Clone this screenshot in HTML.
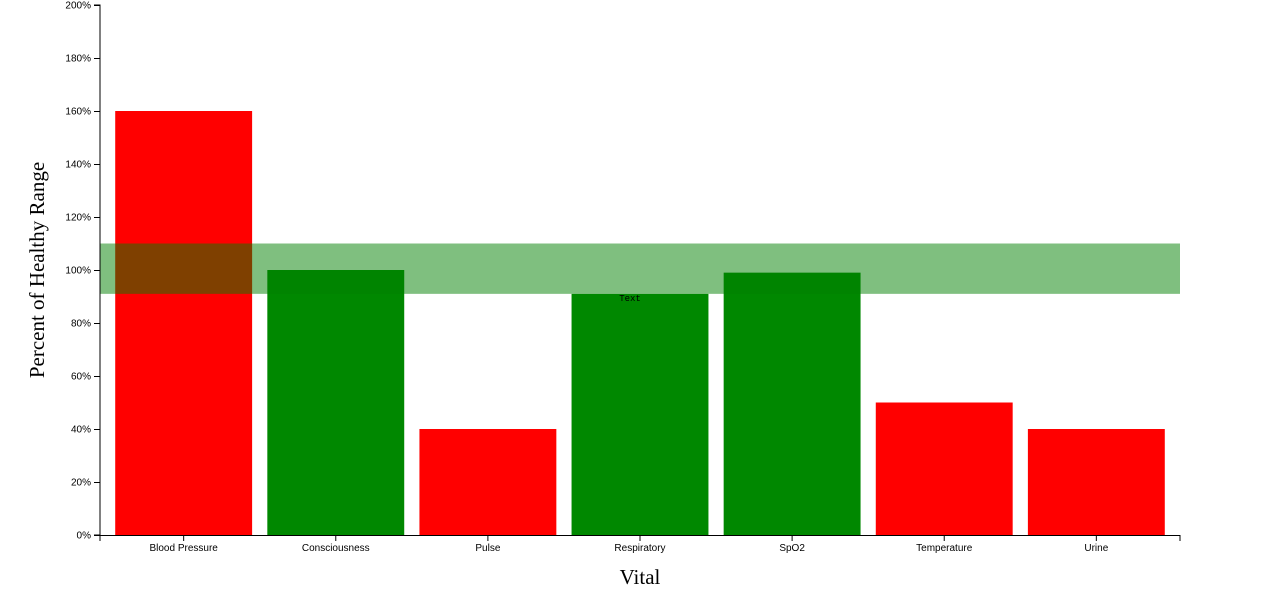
<!DOCTYPE html>
<html><head><meta charset="utf-8"><style>
html,body{margin:0;padding:0;background:#fff;}
svg{display:block;font-family:"Liberation Sans",sans-serif;}
</style></head><body>
<svg id="chart" width="1261" height="598" xmlns="http://www.w3.org/2000/svg"></svg>
<script>
const cats = ["Blood Pressure","Consciousness","Pulse","Respiratory","SpO2","Temperature","Urine"];
const vals = [160,100,40,91,99,50,40];
const inRange = [false,true,false,true,true,false,false];
const yTicks = [0,20,40,60,80,100,120,140,160,180,200];
const bandRange = [91,110];
const NS="http://www.w3.org/2000/svg";
const svg=document.getElementById('chart');
const L=100,R=1180,T=5,B=535,yMax=200;
const y=v=>B-(B-T)*v/yMax;
const n=cats.length,pad=0.1,step=(R-L)/(n-pad+2*pad),bw=step*(1-pad);
const x=i=>L+pad*step+i*step;
function mk(tag,attrs,parent){const e=document.createElementNS(NS,tag);for(const k in attrs)e.setAttribute(k,attrs[k]);(parent||svg).appendChild(e);return e;}
cats.forEach((c,i)=>{
  const r=mk('rect',{x:x(i),y:y(vals[i]),width:bw,height:B-y(vals[i]),fill:inRange[i]?'#008800':'#ff0000'});
  
  
});
const band=mk('rect',{x:L,y:y(bandRange[1]),width:R-L,height:y(bandRange[0])-y(bandRange[1]),fill:'rgba(0,128,0,0.5)'});


const tx=mk('text',{x:630,y:301,'font-family':'"Liberation Mono",monospace','font-size':9,'text-anchor':'middle',fill:'#000'});
tx.textContent='Text';


const ya=mk('g',{});


mk('path',{d:`M${L-6},${T}H${L}V${B}H${L-6}`,stroke:'#000',fill:'none'},ya);
yTicks.forEach(t=>{
  mk('line',{x1:L-6,x2:L,y1:y(t)+0.5,y2:y(t)+0.5,stroke:'#000'},ya);
  const l=mk('text',{x:L-9,y:y(t)+3.5,'font-size':10,'text-anchor':'end',fill:'#000'},ya);
  l.textContent=t+'%';
  
  
});
const xa=mk('g',{});


mk('path',{d:`M${L},${B+6}V${B}.5H${R}V${B+6}`,stroke:'#000',fill:'none'},xa);
cats.forEach((c,i)=>{
  const cx=x(i)+bw/2;
  mk('line',{x1:cx,x2:cx,y1:B,y2:B+6,stroke:'#000'},xa);
  const l=mk('text',{x:cx,y:B+16,'font-size':10,'text-anchor':'middle',fill:'#000'},xa);
  l.textContent=c;
  
  
});
const yt=mk('text',{x:0,y:0,transform:'translate(44,270) rotate(-90)','font-family':'"Liberation Serif",serif','font-size':21,'text-anchor':'middle',fill:'#000'});
yt.textContent='Percent of Healthy Range';


const xt=mk('text',{x:640,y:584,'font-family':'"Liberation Serif",serif','font-size':21,'text-anchor':'middle',fill:'#000'});
xt.textContent='Vital';


</script>
</body></html>
